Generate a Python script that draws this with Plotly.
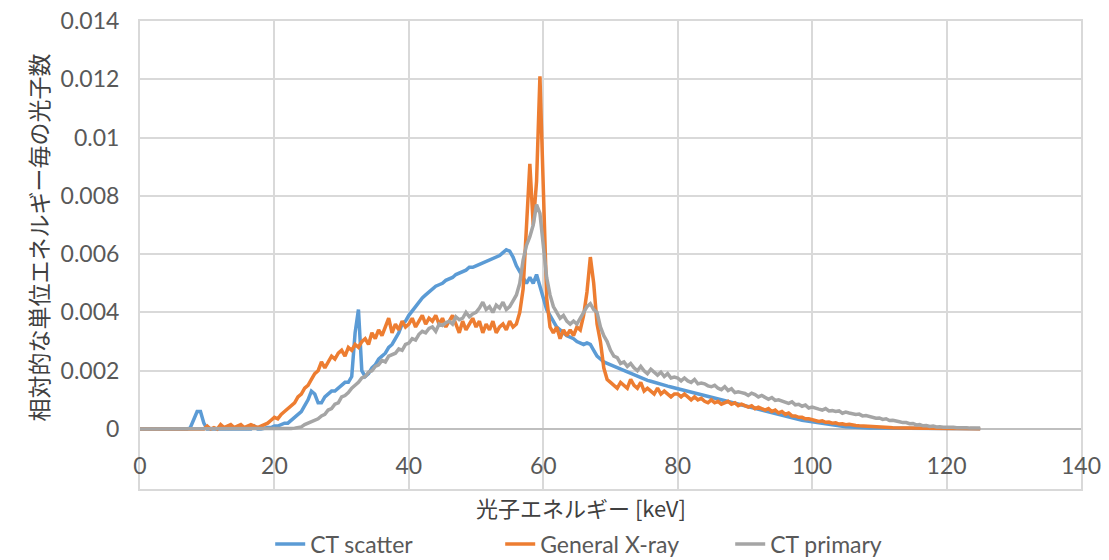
import plotly.graph_objects as go

# Photon energy grid [keV], 0.5 keV bins from 0 to 125
energy_kev = [i * 0.5 for i in range(251)]

# Relative photon counts per unit energy, in units of 1e-4 (one row = 5 keV)
ct_scatter = [
    0, 0, 0, 0, 0, 0, 0, 0, 0, 0,
    0, 0, 0, 0, 0, 0.5, 3, 6, 6, 2,
    0, 0, 0, 0, 0, 0, 0, 0, 0, 0,
    0, 0, 0, 0, 1, 0, 0, 0.3, 0.5, 0.5,
    1, 1, 1.5, 2, 2, 3, 4, 5, 6, 8,
    10, 13, 12, 9, 9, 11, 12, 13, 13, 14,
    15, 16, 16, 18, 33, 41, 20, 18, 19, 21,
    22, 24, 25, 26, 28, 29, 31, 33, 36, 37,
    39, 40.5, 42, 43.5, 45, 46, 47, 48, 49, 49.5,
    50, 51, 51.5, 52, 53, 53.5, 54, 54.5, 55.5, 55.5,
    56, 56.5, 57, 57.5, 58, 58.5, 59, 59.5, 60.5, 61.5,
    61, 59, 56, 54, 52, 50, 52, 50, 53, 49,
    44, 41, 39, 37, 35, 34, 33, 32, 31.5, 31,
    30, 29.5, 29, 29.5, 29, 27, 25, 24, 23, 22.5,
    22, 21.5, 21, 20.5, 20, 19.5, 19, 18.5, 18, 17.5,
    17, 16.7, 16.4, 16, 15.7, 15.4, 15, 14.7, 14.4, 14.1,
    13.8, 13.5, 13.2, 12.9, 12.6, 12.3, 12, 11.7, 11.4, 11.1,
    10.8, 10.5, 10.2, 9.9, 9.6, 9.3, 9, 8.7, 8.4, 8.1,
    7.8, 7.5, 7.2, 6.9, 6.6, 6.3, 6, 5.7, 5.4, 5.1,
    4.8, 4.5, 4.2, 4, 3.7, 3.5, 3.2, 3, 2.8, 2.6,
    2.4, 2.2, 2, 1.8, 1.6, 1.5, 1.3, 1.2, 1, 0.9,
    0.8, 0.7, 0.6, 0.55, 0.5, 0.45, 0.4, 0.35, 0.3, 0.3,
    0.3, 0.25, 0.25, 0.2, 0.2, 0.2, 0.15, 0.15, 0.15, 0.1,
    0.1, 0.1, 0.1, 0.1, 0.1, 0.1, 0.1, 0.05, 0.05, 0.05,
    0.05, 0.05, 0.05, 0.05, 0.05, 0.05, 0.05, 0.05, 0.05, 0.05,
    0.05,
]

general_xray = [
    0, 0, 0, 0, 0, 0, 0, 0, 0, 0,
    0, 0, 0, 0, 0, 0, 0, 0, 0, 0,
    1, 0, 0.5, 0, 1.5, 0.5, 1, 1.5, 0.5, 1,
    1.5, 0.5, 1, 1.5, 1, 0.5, 1, 1.5, 2, 3,
    4, 3.5, 5, 6, 7, 8, 9, 11, 12, 14,
    15, 17, 19, 20, 23, 21, 23, 25, 24, 26,
    27, 25, 28, 27, 29, 28, 30, 31, 29, 33,
    31, 34, 32, 35, 38, 33, 36, 34, 37, 35,
    36, 38, 35, 37, 39, 36, 38, 37, 39, 36,
    38, 35, 37, 39, 36, 33, 37, 34, 36, 38,
    35, 37, 33, 36, 34, 37, 33, 35, 36, 34,
    37, 35, 36, 40, 48, 70, 91, 70, 85, 121,
    80, 45, 35, 33, 35, 31, 34, 32, 34, 32,
    35, 34, 39, 47, 59, 50, 36, 30, 21, 17,
    16, 15, 14, 16, 15, 14, 17, 15, 14, 16,
    13, 14, 13, 12, 14, 12, 13, 12, 11, 12,
    12, 11, 12, 11, 10, 11, 10, 10.5, 9.5, 9,
    10, 9, 9.5, 8.5, 9, 9.5, 8.5, 9, 8, 8.5,
    8, 7.5, 8, 7, 7.5, 7, 6.5, 7, 6, 6.5,
    5.5, 6, 5, 5.5, 4.5, 4.5, 4, 4, 3.5, 3.5,
    3.2, 3, 2.6, 2.8, 2.3, 2.4, 2, 2.1, 1.7, 1.8,
    1.5, 1.6, 1.3, 1.2, 1.1, 1, 0.9, 0.8, 0.8, 0.7,
    0.6, 0.6, 0.5, 0.5, 0.45, 0.4, 0.4, 0.35, 0.35, 0.3,
    0.3, 0.3, 0.25, 0.25, 0.25, 0.2, 0.2, 0.2, 0.2, 0.2,
    0.2, 0.15, 0.15, 0.15, 0.15, 0.1, 0.1, 0.1, 0.1, 0.1,
    0.1,
]

ct_primary = [
    0, 0, 0, 0, 0, 0, 0, 0, 0, 0,
    0, 0, 0, 0, 0, 0, 0, 0, 0, 0,
    0, 0, 0, 0, 0, 0, 0, 0, 0, 0,
    0, 0, 0, 0, 0, 0, 0, 0, 0, 0,
    0, 0, 0, 0, 0, 0.2, 0.3, 0.5, 0.7, 1.5,
    2, 2.5, 3, 3.5, 4.5, 5, 6.5, 7, 8.5, 9,
    11, 11.5, 12.5, 14, 15, 16, 17.5, 18, 19.5, 20,
    21.5, 22, 23.5, 23, 25, 25.5, 26, 27.5, 27, 29,
    29.5, 31, 30.5, 32.5, 33.5, 33, 34.5, 35, 33.5, 36,
    35.5, 36.5, 37, 36, 38.5, 37.5, 38, 40, 38.5, 39.5,
    40, 41.5, 43.5, 41, 42, 40, 42.5, 41.5, 43.5, 41,
    42, 44, 46, 50, 58, 63, 66, 70, 77, 74,
    64, 52, 46, 42, 40, 38, 39, 37, 36, 37,
    36, 38, 40, 42, 43, 41, 40, 35, 32, 30,
    27, 25, 24.5, 22.5, 23, 21.5, 22.5, 21, 20, 21.5,
    20, 19, 20.5, 19.5, 18.5, 19.5, 18, 19, 17.5, 17.8,
    17.5, 16.5, 17.5, 16.5, 16, 17, 15.5, 15.8, 15.5, 14.8,
    14.5, 15, 14, 13.5, 14.5, 13.2, 13.8, 12.5, 12.8, 12.5,
    12.2, 11.5, 12.3, 11.8, 11, 11.5, 10.8, 10.2, 10.8, 9.8,
    10, 9.5, 9.2, 8.8, 9.3, 8.3, 8.5, 7.8, 8.2, 7.2,
    7.5, 7, 6.8, 6.5, 7, 6.2, 6.3, 6, 6.2, 5.4,
    5.8, 5.5, 5.2, 5, 5.1, 4.5, 4.6, 4.2, 4.1, 3.7,
    3.8, 3.3, 3.5, 2.9, 3, 2.6, 2.5, 2.2, 2.2, 1.8,
    1.9, 1.4, 1.5, 1.1, 1.2, 0.9, 1, 0.7, 0.8, 0.6,
    0.7, 0.5, 0.6, 0.4, 0.5, 0.3, 0.4, 0.3, 0.3, 0.2,
    0.3,
]

UNIT = 1e-4
series_names = ["CT scatter", "General X-ray", "CT primary"]
series_values = [ct_scatter, general_xray, ct_primary]
series_colors = ["#5B9BD5", "#ED7D31", "#A5A5A5"]
# the last series sits on the overlay x-axis that carries the energy labels
series_xaxes = ["x", "x", "x2"]

x_ticks = [0, 20, 40, 60, 80, 100, 120, 140]
y_ticks = [0, 0.002, 0.004, 0.006, 0.008, 0.01, 0.012, 0.014]
y_tick_text = ["0", "0.002", "0.004", "0.006", "0.008", "0.01", "0.012", "0.014"]

x_title = "光子エネルギー [keV]"
y_title = "相対的な単位エネルギー毎の光子数"

LATIN = "Lato, 'Open Sans', sans-serif"
CJK = "'Noto Sans CJK JP', sans-serif"
TEXT = "#595959"
GRID = "#D9D9D9"

fig = go.Figure()
for name, vals, color, xa in zip(series_names, series_values, series_colors, series_xaxes):
    fig.add_trace(go.Scatter(
        x=energy_kev,
        y=[v * UNIT for v in vals],
        mode="lines",
        name=name,
        xaxis=xa,
        yaxis="y",
        line=dict(color=color, width=3.5),
    ))

fig.update_layout(
    width=1109,
    height=560,
    margin=dict(l=140, r=28, t=21, b=71, autoexpand=False),
    paper_bgcolor="white",
    plot_bgcolor="white",
    showlegend=True,
    legend=dict(
        orientation="h",
        x=0.505, xanchor="center",
        y=-0.1175, yanchor="middle",
        font=dict(family=LATIN, size=23, color=TEXT),
        entrywidthmode="pixels",
        entrywidth=185,
    ),
    xaxis=dict(
        range=[0, 140],
        tickvals=x_ticks,
        showticklabels=False,
        ticks="",
        showgrid=True, gridcolor=GRID, gridwidth=2,
        zeroline=False,
        showline=True, linecolor=GRID, linewidth=2, mirror=True,
    ),
    # Energy tick labels, drawn just under the zero line inside the frame
    xaxis2=dict(
        range=[0, 140],
        matches="x",
        overlaying="x",
        anchor="free",
        position=0.083,
        side="bottom",
        tickvals=x_ticks,
        ticks="",
        showgrid=False, zeroline=False, showline=False,
        tickfont=dict(family=LATIN, size=23, color=TEXT),
    ),
    yaxis=dict(
        range=[-0.002059, 0.014],
        tickvals=y_ticks,
        ticktext=y_tick_text,
        ticks="",
        ticklabelstandoff=14,
        tickfont=dict(family=LATIN, size=23, color=TEXT),
        showgrid=True, gridcolor=GRID, gridwidth=2,
        zeroline=True, zerolinecolor="#BFBFBF", zerolinewidth=2,
        showline=True, linecolor=GRID, linewidth=2, mirror=True,
    ),
    annotations=[
        dict(text=x_title, xref="paper", yref="paper",
             x=0.4687, y=-0.0385, xanchor="center", yanchor="middle",
             showarrow=False, font=dict(family=CJK, size=22, color="#404040")),
        dict(text=y_title, xref="paper", yref="paper",
             x=-0.108, y=0.538, xanchor="center", yanchor="middle",
             textangle=-90, showarrow=False,
             font=dict(family=CJK, size=23, color="#404040")),
    ],
)

fig.write_html("out.html")
